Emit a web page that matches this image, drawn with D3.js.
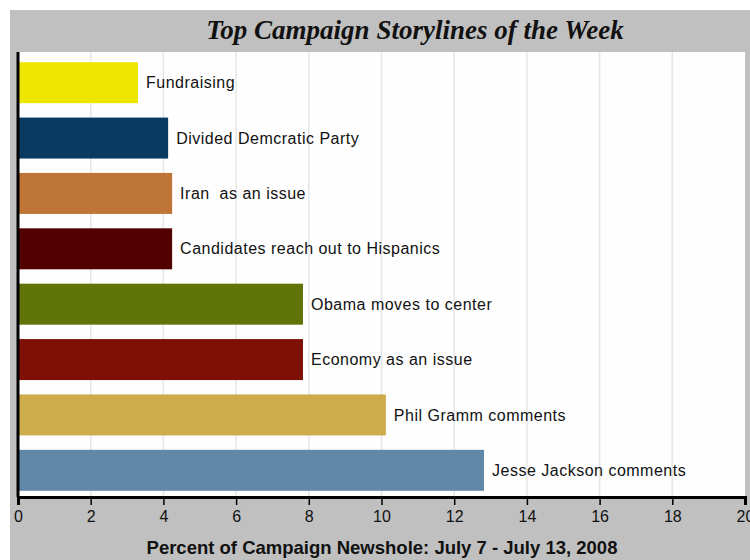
<!DOCTYPE html>
<html>
<head>
<meta charset="utf-8">
<script src="https://cdn.jsdelivr.net/npm/d3@7"></script>
<style>
  body { margin: 0; background: #fff; }
  svg { display: block; }
</style>
</head>
<body>
<script>
// chart data
var storylines = ["Fundraising", "Divided Demcratic Party", "Iran  as an issue",
  "Candidates reach out to Hispanics", "Obama moves to center", "Economy as an issue",
  "Phil Gramm comments", "Jesse Jackson comments"];
var percents = [3.3, 4.13, 4.24, 4.24, 7.84, 7.84, 10.12, 12.82];
var barColors = ["#ede600", "#083a62", "#bf7535", "#520000", "#607307", "#7e1006", "#cfac4b", "#6188a9"];
var tickValues = [0, 2, 4, 6, 8, 10, 12, 14, 16, 18, 20];

var data = storylines.map(function(s, i) {
    return {name: s, value: percents[i], color: barColors[i]};
});

var W = 750, H = 560;
var plotLeft = 18, plotRight = 745, plotTop = 52, plotBottom = 497;

var svg = d3.select("body").append("svg")
    .attr("width", W)
    .attr("height", H);

// grey frame
svg.append("rect")
    .attr("x", 10).attr("y", 10)
    .attr("width", W - 10).attr("height", H - 10)
    .attr("fill", "#c0c0c0");

svg.append("rect")
    .attr("x", plotLeft).attr("y", plotTop)
    .attr("width", plotRight - plotLeft).attr("height", plotBottom - plotTop)
    .attr("fill", "#fefefe");

var x = d3.scaleLinear()
    .domain([0, 20])
    .range([plotLeft, plotRight]);

var y = d3.scaleBand()
    .domain(storylines)
    .range([55, 498])
    .paddingInner(0.26)
    .paddingOuter(0.13);

// gridlines
svg.append("g")
    .selectAll("line")
    .data(tickValues.slice(1, -1))
    .enter().append("line")
    .attr("x1", function(d) { return x(d); })
    .attr("x2", function(d) { return x(d); })
    .attr("y1", plotTop)
    .attr("y2", plotBottom)
    .attr("stroke", "#e6e6e6")
    .attr("stroke-width", 1.5);

// bars
svg.append("g")
    .selectAll("rect")
    .data(data)
    .enter().append("rect")
    .attr("x", x(0))
    .attr("y", function(d) { return y(d.name); })
    .attr("width", function(d) { return x(d.value) - x(0); })
    .attr("height", y.bandwidth())
    .attr("fill", function(d) { return d.color; });

// bar labels
svg.append("g")
    .selectAll("text")
    .data(data)
    .enter().append("text")
    .attr("x", function(d) { return x(d.value) + 8; })
    .attr("y", function(d) { return y(d.name) + y.bandwidth() / 2; })
    .attr("dy", "0.35em")
    .attr("font-family", "Liberation Sans, Arial, sans-serif")
    .attr("font-size", 16)
    .attr("letter-spacing", 0.5)
    .attr("fill", "#111")
    .style("white-space", "pre")
    .text(function(d) { return d.name; });

// x axis
var xAxis = svg.append("g")
    .attr("transform", "translate(0," + plotBottom + ")")
    .call(d3.axisBottom(x).tickValues(tickValues).tickSize(8).tickPadding(6));
xAxis.select(".domain").attr("stroke", "#000").attr("stroke-width", 3);
xAxis.selectAll(".tick line").attr("stroke", "#000").attr("stroke-width", 1.5);
xAxis.selectAll(".tick text")
    .attr("font-family", "Liberation Sans, Arial, sans-serif")
    .attr("font-size", 16)
    .attr("fill", "#111");

// left axis line
svg.append("line")
    .attr("x1", plotLeft).attr("x2", plotLeft)
    .attr("y1", plotTop).attr("y2", plotBottom)
    .attr("stroke", "#000")
    .attr("stroke-width", 3);

// title
svg.append("text")
    .attr("x", 415)
    .attr("y", 39)
    .attr("text-anchor", "middle")
    .attr("font-family", "Liberation Serif, Times New Roman, serif")
    .attr("font-weight", "bold")
    .attr("font-style", "italic")
    .attr("font-size", 27)
    .attr("fill", "#111")
    .text("Top Campaign Storylines of the Week");

// x axis title
svg.append("text")
    .attr("x", 382)
    .attr("y", 554)
    .attr("text-anchor", "middle")
    .attr("font-family", "Liberation Sans, Arial, sans-serif")
    .attr("font-weight", "bold")
    .attr("font-size", 18.5)
    .attr("fill", "#111")
    .text("Percent of Campaign Newshole: July 7 - July 13, 2008");
</script>
</body>
</html>
